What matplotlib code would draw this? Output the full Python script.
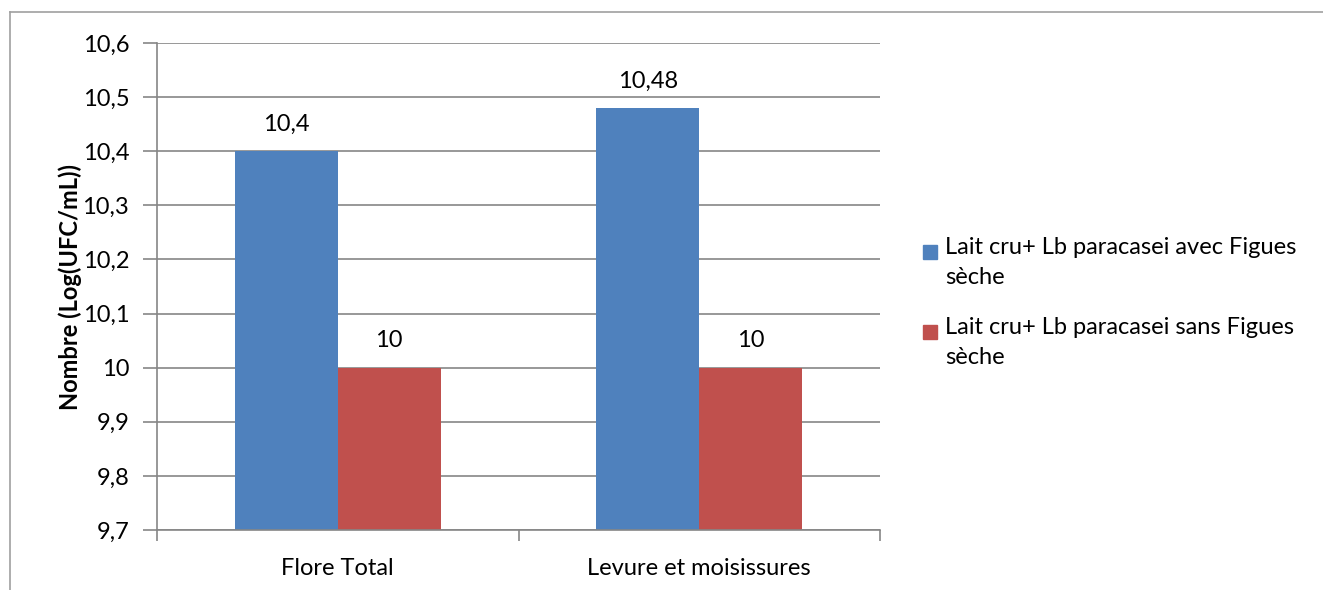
import matplotlib.pyplot as plt
import numpy as np
from matplotlib.patches import Rectangle
from matplotlib.lines import Line2D

categories = ["Flore Total", "Levure et moisissures"]
avec_figues = [10.4, 10.48]
sans_figues = [10.0, 10.0]
series_names = ["Lait cru+ Lb paracasei avec Figues\nsèche",
                "Lait cru+ Lb paracasei sans Figues\nsèche"]
series_colors = ['#4F81BD', '#C0504D']
yticks = [9.7, 9.8, 9.9, 10.0, 10.1, 10.2, 10.3, 10.4, 10.5, 10.6]

plt.rcParams['font.family'] = ['Lato', 'DejaVu Sans']
W, H = 1323, 590
fs = 17
fig = plt.figure(figsize=(W / 100, H / 100), dpi=100)

# outer chart border: only top and left edges are visible in the reference
border = '#a0a0a0'
fig.add_artist(Line2D([10 / W, 10 / W], [0, 1 - 12 / H], transform=fig.transFigure,
                      color=border, linewidth=1.2))
fig.add_artist(Line2D([10 / W, 1], [1 - 12 / H, 1 - 12 / H], transform=fig.transFigure,
                      color=border, linewidth=1.2))

ax = fig.add_axes([157 / W, 1 - 530 / H, (880 - 157) / W, (530 - 43) / H])

grey = '#868686'
x = np.arange(len(categories))
w = 0.285
b1 = ax.bar(x - w / 2, np.array(avec_figues) - 9.7, w, bottom=9.7,
            color=series_colors[0])
b2 = ax.bar(x + w / 2, np.array(sans_figues) - 9.7, w, bottom=9.7,
            color=series_colors[1])

def fmt(v):
    s = ('%.2f' % v).rstrip('0').rstrip('.')
    return s.replace('.', ',')

for bars, vals in ((b1, avec_figues), (b2, sans_figues)):
    for r, v in zip(bars, vals):
        ax.text(r.get_x() + r.get_width() / 2, v + 0.03, fmt(v),
                ha='center', va='bottom', fontsize=fs)

ax.set_xlim(-0.5, 1.5)
ax.set_ylim(9.7, 10.6)
ax.set_yticks(yticks)
ax.set_yticklabels([fmt(t) for t in yticks], fontsize=fs)
ax.set_xticks([-0.5, 0.5, 1.5], minor=False)
ax.set_xticklabels([])
ax.set_xticks(x, minor=True)
ax.set_xticklabels(categories, minor=True, fontsize=fs)
ax.tick_params(axis='x', which='minor', length=0, pad=20)
ax.tick_params(axis='x', which='major', length=8, color=grey, width=1.2)
ax.tick_params(axis='y', length=10, color=grey, width=1.2, pad=10)

ax.grid(axis='y', color=grey, linewidth=1.2)
ax.set_axisbelow(True)
for side in ('top', 'right'):
    ax.spines[side].set_visible(False)
for side in ('left', 'bottom'):
    ax.spines[side].set_color(grey)
    ax.spines[side].set_linewidth(1.2)

ax.set_ylabel("Nombre (Log(UFC/mL))", fontsize=fs, fontweight='bold', labelpad=0)

# legend drawn by hand: marker aligned with the first line of each entry
leg_tops = [252, 332]
for name, col, yc in zip(series_names, series_colors, leg_tops):
    fig.patches.append(Rectangle((923 / W, 1 - (yc + 7) / H), 14 / W, 14 / H,
                                 transform=fig.transFigure, color=col))
    fig.text(945 / W, 1 - (yc - 15) / H, name, fontsize=fs, va='top', ha='left',
             linespacing=1.5)

fig.savefig('out.png', dpi=100)
